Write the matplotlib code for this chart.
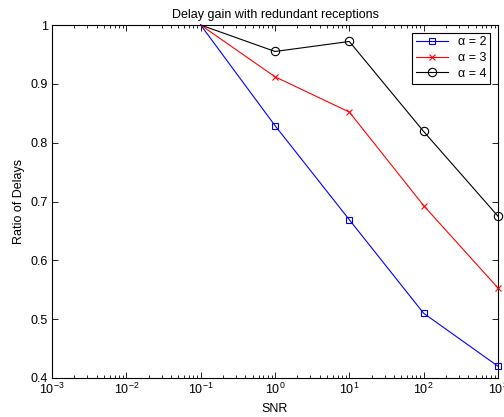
import numpy as np
import matplotlib
matplotlib.use("Agg")
import matplotlib.pyplot as plt
from matplotlib.ticker import LogLocator, NullFormatter

plt.rcParams["font.family"] = ["Liberation Sans", "DejaVu Sans"]
plt.rcParams["mathtext.fontset"] = "custom"
plt.rcParams["mathtext.rm"] = "Liberation Sans"
plt.rcParams["mathtext.it"] = "Liberation Sans:italic"

snr = [0.1, 1, 10, 100, 1000]
ratio_a2 = [1.0, 0.829, 0.669, 0.510, 0.420]
ratio_a3 = [1.0, 0.912, 0.852, 0.693, 0.553]
ratio_a4 = [1.0, 0.955, 0.972, 0.819, 0.675]
labels = ["\u03b1 = 2", "\u03b1 = 3", "\u03b1 = 4"]
yticks = [0.4, 0.5, 0.6, 0.7, 0.8, 0.9, 1.0]
yticklabels = ["0.4", "0.5", "0.6", "0.7", "0.8", "0.9", "1"]

fig = plt.figure(figsize=(5.04, 4.17), dpi=100)
W, H = 504, 417
ax = fig.add_axes([52 / W, 1 - 378 / H, (498 - 52) / W, (378 - 25) / H])

# markers at the (0.1, 1) point are hidden under the top border in the original
marks = [1, 2, 3, 4]
ax.plot(snr, ratio_a2, color="blue", lw=0.8, marker="s", ms=5, mfc="none",
        mew=0.8, markevery=marks, label=labels[0], clip_on=False, zorder=3)
ax.plot(snr, ratio_a3, color="red", lw=0.8, marker="x", ms=5,
        mew=0.8, markevery=marks, label=labels[1], clip_on=False, zorder=3)
ax.plot(snr, ratio_a4, color="black", lw=0.8, marker="o", ms=6, mfc="none",
        mew=0.8, markevery=marks, label=labels[2], clip_on=False, zorder=3)

ax.set_xscale("log")
ax.set_xlim(1e-3, 1e3)
ax.set_ylim(0.4, 1.0)
ax.set_yticks(yticks)
ax.set_yticklabels(yticklabels)
ax.xaxis.set_major_locator(LogLocator(base=10, numticks=10))
ax.xaxis.set_minor_locator(LogLocator(base=10, subs=np.arange(2, 10), numticks=20))
ax.xaxis.set_minor_formatter(NullFormatter())

ax.tick_params(which="both", direction="in", top=True, right=True,
               labelsize=9, width=0.6, pad=3)
ax.tick_params(which="major", length=4)
ax.tick_params(which="minor", length=2)
for sp in ax.spines.values():
    sp.set_linewidth(0.8)

ax.set_title("Delay gain with redundant receptions", fontsize=9, pad=5)
ax.set_xlabel("SNR", fontsize=9, labelpad=4)
ax.set_ylabel("Ratio of Delays", fontsize=9, labelpad=4)

leg = ax.legend(loc="upper right", fontsize=9, fancybox=False,
                edgecolor="black", framealpha=1, borderaxespad=0.6,
                handlelength=2.6, labelspacing=0.3, borderpad=0.3)
leg.get_frame().set_linewidth(0.8)

fig.savefig("out.png", dpi=100)
